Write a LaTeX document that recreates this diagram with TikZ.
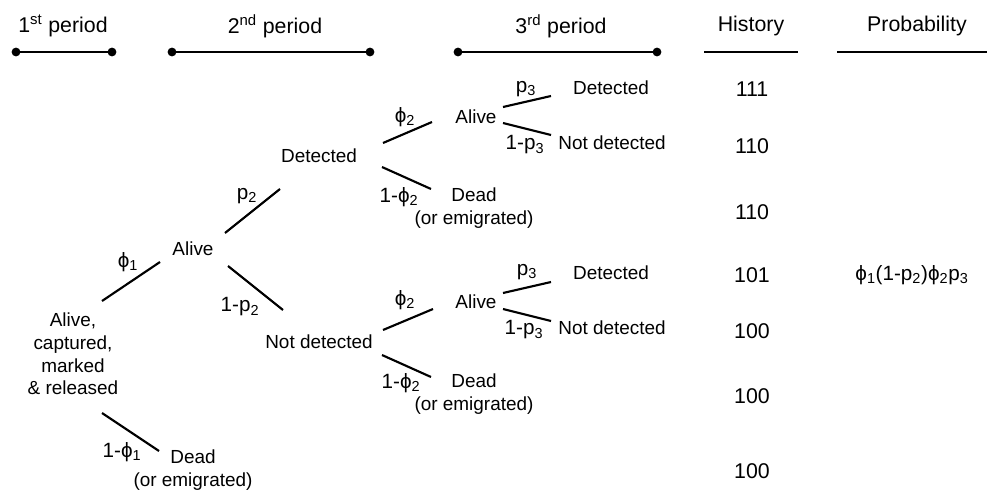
\documentclass[tikz,border=0pt]{standalone}
\usepackage{fontspec}
\setmainfont{Liberation Sans}

\begin{document}
\begin{tikzpicture}[x=0.75pt,y=-0.75pt,
		font=\fontsize{14.2}{17}\selectfont,
		head/.style={font=\fontsize{16}{19}\selectfont},
		state/.style={align=center,inner sep=0pt},
		prob/.style={inner sep=0pt,font=\fontsize{15.5}{18}\selectfont},
		hist/.style={inner sep=0pt,font=\fontsize{16}{19}\selectfont},
		branch/.style={line width=1.6pt},
		rule/.style={line width=1.6pt}]
		\useasboundingbox (0,0) rectangle (987,492);

		% column headings
		\node [head] (head-p1) at (63,26) {1\textsuperscript{st} period};
		\node [head] (head-p2) at (275,26) {2\textsuperscript{nd} period};
		\node [head] (head-p3) at (561,26) {3\textsuperscript{rd} period};
		\node [head] (head-hist) at (751,26) {History};
		\node [head] (head-prob) at (917,26) {Probability};

		\draw [rule] (16,52) -- (112,52);
		\draw [rule] (172,52) -- (370,52);
		\draw [rule] (458,52) -- (657,52);
		\draw [rule] (704,52) -- (798,52);
		\draw [rule] (837,52) -- (987,52);
		\fill (16,52) circle (3.3pt) (112,52) circle (3.3pt);
		\fill (172,52) circle (3.3pt) (370,52) circle (3.3pt);
		\fill (458,52) circle (3.3pt) (657,52) circle (3.3pt);

		% states
		\node [state] (root) at (73,354) {Alive,\\captured,\\marked\\\& released};
		\node [state] (alive2) at (193,249) {Alive};
		\node [state] (dead1) at (193,470) {Dead\\(or emigrated)};
		\node [state] (det2) at (319,156) {Detected};
		\node [state] (nodet2) at (319,342) {Not detected};

		\node [state] (alive3a) at (476,117) {Alive};
		\node [state] (dead2a) at (474,208) {Dead\\(or emigrated)};
		\node [state] (det3a) at (611,88) {Detected};
		\node [state] (nodet3a) at (612,143) {Not detected};

		\node [state] (alive3b) at (476,302) {Alive};
		\node [state] (dead2b) at (474,394) {Dead\\(or emigrated)};
		\node [state] (det3b) at (611,273) {Detected};
		\node [state] (nodet3b) at (612,328) {Not detected};

		% branch labels
		\node [prob] (phi1) at (128,262) {ϕ\textsubscript{1}};
		\node [prob] (nphi1) at (122,452) {1-ϕ\textsubscript{1}};
		\node [prob] (p2) at (247,196) {p\textsubscript{2}};
		\node [prob] (np2) at (240,307) {1-p\textsubscript{2}};
		\node [prob] (phi2a) at (405,117) {ϕ\textsubscript{2}};
		\node [prob] (nphi2a) at (399,197) {1-ϕ\textsubscript{2}};
		\node [prob] (p3a) at (526,89) {p\textsubscript{3}};
		\node [prob] (np3a) at (525,145) {1-p\textsubscript{3}};
		\node [prob] (phi2b) at (405,300) {ϕ\textsubscript{2}};
		\node [prob] (nphi2b) at (401,383) {1-ϕ\textsubscript{2}};
		\node [prob] (p3b) at (527,272) {p\textsubscript{3}};
		\node [prob] (np3b) at (524,330) {1-p\textsubscript{3}};

		% histories
		\node [hist] (hist1) at (752,89) {111};
		\node [hist] (hist2) at (752,146) {110};
		\node [hist] (hist3) at (752,212) {110};
		\node [hist] (hist4) at (752,275) {101};
		\node [hist] (hist5) at (752,331) {100};
		\node [hist] (hist6) at (752,396) {100};
		\node [hist] (hist7) at (752,471) {100};
		\node [hist,font=\fontsize{15.5}{18}\selectfont] (prob101) at (912,275) {ϕ\textsubscript{1}(1-p\textsubscript{2})ϕ\textsubscript{2}p\textsubscript{3}};

		% first and second period branches
		\draw [branch] ([shift={(29,-53)}]root.center) -- ([shift={(-33,13)}]alive2.center);
		\draw [branch] ([shift={(29,59)}]root.center) -- ([shift={(-34,-19)}]dead1.center);
		\draw [branch] ([shift={(32,-16)}]alive2.center) -- ([shift={(-39,33)}]det2.center);
		\draw [branch] ([shift={(35,17)}]alive2.center) -- ([shift={(-36,-32)}]nodet2.center);

		% third period, upper
		\draw [branch] ([shift={(64,-13)}]det2.center) -- ([shift={(-44,5)}]alive3a.center);
		\draw [branch] ([shift={(63,11)}]det2.center) -- ([shift={(-43,-19)}]dead2a.center);
		\draw [branch] ([shift={(27,-10)}]alive3a.center) -- ([shift={(-60,8)}]det3a.center);
		\draw [branch] ([shift={(27,6)}]alive3a.center) -- ([shift={(-61,-8)}]nodet3a.center);

		% third period, lower
		\draw [branch] ([shift={(64,-12)}]nodet2.center) -- ([shift={(-43,7)}]alive3b.center);
		\draw [branch] ([shift={(63,13)}]nodet2.center) -- ([shift={(-43,-17)}]dead2b.center);
		\draw [branch] ([shift={(27,-9)}]alive3b.center) -- ([shift={(-60,9)}]det3b.center);
		\draw [branch] ([shift={(27,7)}]alive3b.center) -- ([shift={(-61,-7)}]nodet3b.center);
	\end{tikzpicture}
\end{document}
